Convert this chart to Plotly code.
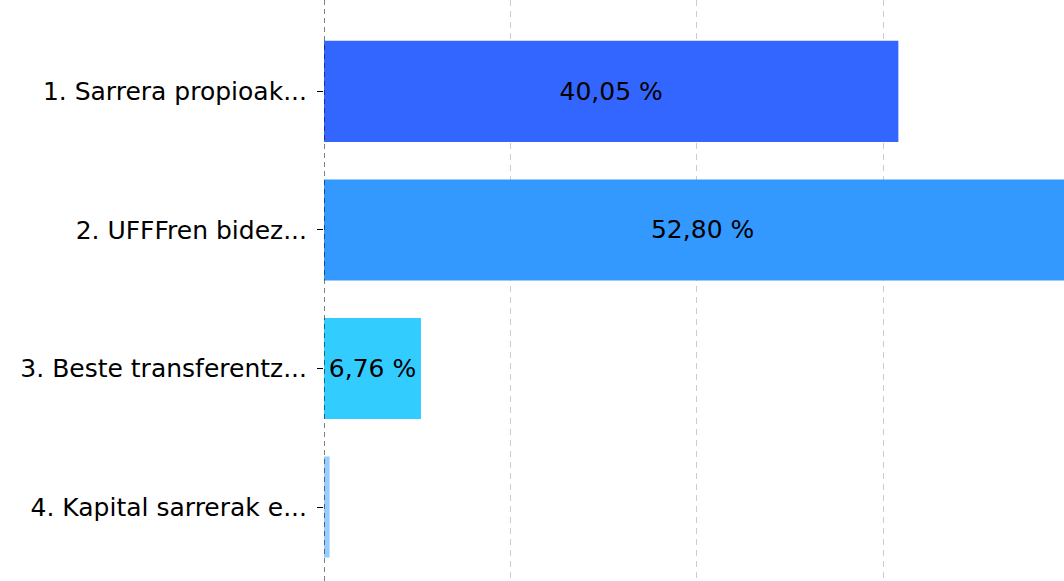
import plotly.graph_objects as go

# datuak
categories = ["1. Sarrera propioak...", "2. UFFFren bidez...", "3. Beste transferentz...", "4. Kapital sarrerak e..."]
values = [40.05, 52.80, 6.76, 0.39]
labels = ["40,05 %", "52,80 %", "6,76 %", "0,39 %"]
colors = ["#3366FF", "#3399FF", "#33CCFF", "#99CCFF"]
grid_vals = [0, 13, 26, 39]

fig = go.Figure()
fig.add_trace(go.Bar(
    y=categories, x=values, orientation="h",
    marker=dict(color=colors, line=dict(width=0)),
    text=labels, textposition="inside", insidetextanchor="middle",
    textfont=dict(family="DejaVu Sans", size=25, color="black"),
    cliponaxis=True,
))

# eje bertikala (marra etena)
fig.add_vline(x=0, line=dict(color="black", width=1, dash="5px,4px"))

fig.update_layout(
    width=1064, height=581,
    margin=dict(l=324, r=0, t=0, b=0),
    plot_bgcolor="white", paper_bgcolor="white",
    bargap=0.27, showlegend=False,
    uniformtext=dict(minsize=18, mode="hide"),
    font=dict(family="DejaVu Sans", size=25, color="black"),
)
fig.update_xaxes(
    range=[0, 51.6], tickvals=grid_vals, showticklabels=False,
    showgrid=True, gridcolor="#CCCCCC", griddash="6px,5px", gridwidth=1,
    zeroline=False, showline=False,
)
fig.update_yaxes(
    autorange=False, range=[3.534, -0.66],
    ticks="outside", ticklen=6, tickcolor="black", tickwidth=1,
    ticklabelstandoff=5,
    showgrid=False, zeroline=False, showline=False,
    tickfont=dict(family="DejaVu Sans", size=25, color="black"),
)

fig.write_html(
    "out.html",
    config={"displayModeBar": False},
    post_script="document.body.style.margin='0';document.body.style.overflow='hidden';",
)
